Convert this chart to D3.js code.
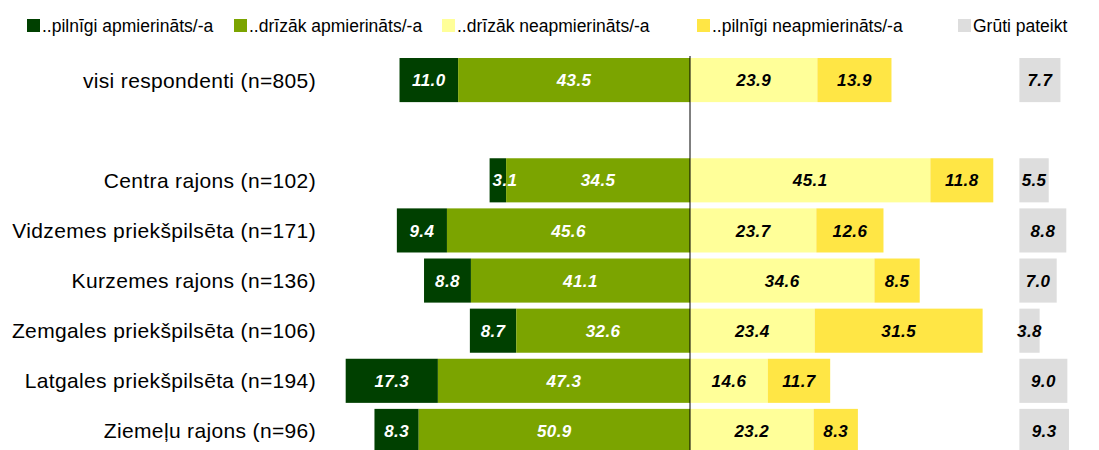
<!DOCTYPE html>
<html><head><meta charset="utf-8">
<script src="https://cdn.jsdelivr.net/npm/d3@7"></script>
<style>body{margin:0;background:#fff}svg{display:block;font-family:"Liberation Sans",Arial,sans-serif}</style>
</head><body><svg id="c" width="1099" height="450"></svg>
<script>
const categories = ["visi respondenti (n=805)", "", "Centra rajons (n=102)", "Vidzemes priekšpilsēta (n=171)", "Kurzemes rajons (n=136)", "Zemgales priekšpilsēta (n=106)", "Latgales priekšpilsēta (n=194)", "Ziemeļu rajons (n=96)"];
const seriesNames = ["..pilnīgi apmierināts/-a", "..drīzāk apmierināts/-a", "..drīzāk neapmierināts/-a", "..pilnīgi neapmierināts/-a", "Grūti pateikt"];
const pilnigiApm = [11.0, null, 3.1, 9.4, 8.8, 8.7, 17.3, 8.3];
const drizakApm = [43.5, null, 34.5, 45.6, 41.1, 32.6, 47.3, 50.9];
const drizakNeapm = [23.9, null, 45.1, 23.7, 34.6, 23.4, 14.6, 23.2];
const pilnigiNeapm = [13.9, null, 11.8, 12.6, 8.5, 31.5, 11.7, 8.3];
const gruti = [7.7, null, 5.5, 8.8, 7.0, 3.8, 9.0, 9.3];
const colors = ["#004000", "#7ba400", "#ffff99", "#ffe645", "#dddddd"];
const textColors = ["#fff", "#fff", "#000", "#000", "#000"];

const svg = d3.select("#c");
const x = d3.scaleLinear().domain([0, 10]).range([690, 743.3]);
const gruStart = 61.8; // offset of "Grūti pateikt" column
const y = d3.scaleBand().domain(d3.range(categories.length)).range([55, 456]).paddingInner(0.12).paddingOuter(0.06);

const segs = [];
categories.forEach((c, i) => {
  if (pilnigiApm[i] == null) return;
  const a = pilnigiApm[i], b = drizakApm[i], cc = drizakNeapm[i], d = pilnigiNeapm[i], g = gruti[i];
  segs.push({i, s:0, x0:-(a+b), x1:-b, v:a});
  segs.push({i, s:1, x0:-b, x1:0, v:b});
  segs.push({i, s:2, x0:0, x1:cc, v:cc});
  segs.push({i, s:3, x0:cc, x1:cc+d, v:d});
  segs.push({i, s:4, x0:gruStart, x1:gruStart+g, v:g});
});

svg.selectAll("rect.bar").data(segs).join("rect").attr("class","bar")
  .attr("x", d => x(d.x0)).attr("width", d => x(d.x1) - x(d.x0))
  .attr("y", d => y(d.i)).attr("height", y.bandwidth())
  .attr("fill", d => colors[d.s]);

svg.selectAll("text.val").data(segs).join("text").attr("class","val")
  .attr("x", d => (x(d.x0) + x(d.x1)) / 2)
  .attr("y", d => y(d.i) + y.bandwidth()/2)
  .attr("dy", "0.36em").attr("text-anchor", "middle")
  .attr("font-size", 17).attr("font-weight", "bold").attr("font-style", "italic")
  .attr("letter-spacing", 0.4)
  .attr("fill", d => textColors[d.s]).text(d => d3.format(".1f")(d.v))
  .each(function(d) {
    if (d.s !== 0) return;
    const w = this.getComputedTextLength();
    const segW = x(d.x1) - x(d.x0);
    if (w > segW) d3.select(this).attr("text-anchor", "start").attr("x", x(d.x0) + 3);
  });

svg.append("line").attr("x1", x(0)).attr("x2", x(0)).attr("y1", 56).attr("y2", 450)
  .attr("stroke", "#000").attr("stroke-width", 1);

svg.selectAll("text.cat").data(categories).join("text").attr("class","cat")
  .attr("x", 316).attr("y", (d, i) => y(i) + y.bandwidth()/2).attr("dy", "0.36em")
  .attr("text-anchor", "end").attr("font-size", 21).attr("letter-spacing", 0.35)
  .attr("fill", "#000").text(d => d);

const legX = [27, 234, 442, 697, 958];
const leg = svg.selectAll("g.leg").data(seriesNames).join("g").attr("class","leg")
  .attr("transform", (d, i) => `translate(${legX[i]},0)`);
leg.append("rect").attr("x", 0).attr("y", 19).attr("width", 13).attr("height", 13).attr("fill", (d, i) => colors[i]);
leg.append("text").attr("x", 15).attr("y", 31.5).attr("font-size", 17.5).attr("fill", "#000").text(d => d);
</script></body></html>
